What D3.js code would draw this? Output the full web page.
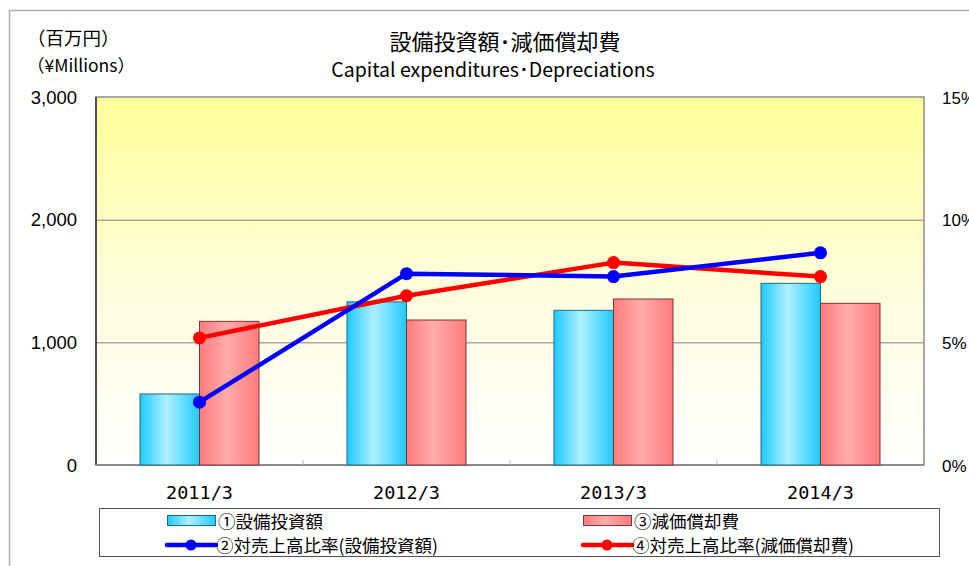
<!DOCTYPE html>
<html><head><meta charset="utf-8">
<script src="https://cdn.jsdelivr.net/npm/d3@7"></script>
<style>body{margin:0;background:#fff;}svg{display:block;}</style>
</head><body>
<svg id="c" width="969" height="566"></svg>
<script>
const categories = ["2011/3","2012/3","2013/3","2014/3"];
const capex = [579, 1330, 1261, 1481];
const depreciation = [1171, 1182, 1353, 1318];
const capexRatio = [2.56, 7.8, 7.68, 8.65];
const deprRatio = [5.18, 6.9, 8.25, 7.68];
const leftTicks = [0, 1000, 2000, 3000];
const rightTicks = [0, 5, 10, 15];
const title = "設備投資額･減価償却費";
const subtitle = "Capital expenditures･Depreciations";
const legendLabels = ["①設備投資額","③減価償却費","②対売上高比率(設備投資額)","④対売上高比率(減価償却費)"];

const svg = d3.select("#c");
const jp = "'Noto Sans CJK JP','Noto Sans',sans-serif";
const num = "'Liberation Sans',Arial,sans-serif";
const mono = "'DejaVu Sans Mono',monospace";
const M = {l:96, r:924, t:97, b:465};

const defs = svg.append("defs");
const bg = defs.append("linearGradient").attr("id","bg").attr("x1",0).attr("y1",0).attr("x2",0).attr("y2",1);
bg.append("stop").attr("offset","0%").attr("stop-color","#ffff99");
bg.append("stop").attr("offset","55%").attr("stop-color","#fffde0");
bg.append("stop").attr("offset","100%").attr("stop-color","#ffffff");
function hgrad(id, edge, mid){
  const g = defs.append("linearGradient").attr("id",id).attr("x1",0).attr("y1",0).attr("x2",1).attr("y2",0);
  g.append("stop").attr("offset","0%").attr("stop-color",edge);
  g.append("stop").attr("offset","45%").attr("stop-color",mid);
  g.append("stop").attr("offset","100%").attr("stop-color",edge);
}
hgrad("gb","#1fcaff","#aef0ff");
hgrad("gr","#ff7b7b","#ffabab");

// outer frame
svg.append("rect").attr("x",9.5).attr("y",10.5).attr("width",980).attr("height",600)
  .attr("fill","none").attr("stroke","#b0b0b0").attr("stroke-width",1.5);

const x = d3.scaleBand().domain(categories).range([M.l, M.r]);
const y = d3.scaleLinear().domain([0,3000]).range([M.b, M.t]);
const y2 = d3.scaleLinear().domain([0,15]).range([M.b, M.t]);

svg.append("rect").attr("x",M.l).attr("y",M.t).attr("width",M.r-M.l).attr("height",M.b-M.t)
  .attr("fill","url(#bg)");

// gridlines
svg.append("g").selectAll("line").data(leftTicks.filter(d=>d>0 && d<3000)).join("line")
  .attr("x1",M.l).attr("x2",M.r).attr("y1",d=>y(d)+0.5).attr("y2",d=>y(d)+0.5)
  .attr("stroke","#7f7f7f").attr("stroke-width",1);

// plot border
svg.append("rect").attr("x",M.l).attr("y",M.t).attr("width",M.r-M.l).attr("height",M.b-M.t)
  .attr("fill","none").attr("stroke","#8c8c8c").attr("stroke-width",1.5);
svg.append("line").attr("x1",M.l).attr("x2",M.l).attr("y1",M.t).attr("y2",M.b).attr("stroke","#333").attr("stroke-width",1.5);
svg.append("line").attr("x1",M.l).attr("x2",M.r).attr("y1",M.b).attr("y2",M.b).attr("stroke","#8c8c8c").attr("stroke-width",2);

// x ticks between categories
svg.append("g").selectAll("line").data(categories.slice(1)).join("line")
  .attr("x1",d=>x(d)).attr("x2",d=>x(d)).attr("y1",M.b-5).attr("y2",M.b)
  .attr("stroke","#bbb").attr("stroke-width",1);

const bw = 59.5;
// bars
svg.append("g").selectAll("rect").data(categories).join("rect")
  .attr("x",d=>x(d)+x.bandwidth()/2-bw).attr("width",bw)
  .attr("y",(d,i)=>y(capex[i])).attr("height",(d,i)=>M.b-y(capex[i]))
  .attr("fill","url(#gb)").attr("stroke","#1b6f80").attr("stroke-width",1);
svg.append("g").selectAll("rect").data(categories).join("rect")
  .attr("x",d=>x(d)+x.bandwidth()/2).attr("width",bw)
  .attr("y",(d,i)=>y(depreciation[i])).attr("height",(d,i)=>M.b-y(depreciation[i]))
  .attr("fill","url(#gr)").attr("stroke","#7a3535").attr("stroke-width",1);

// lines
function series(vals,color){
  const line = d3.line().x((d,i)=>x(categories[i])+x.bandwidth()/2).y(d=>y2(d));
  svg.append("path").datum(vals).attr("d",line).attr("fill","none").attr("stroke",color)
    .attr("stroke-width",4.5).attr("stroke-linejoin","round");
  svg.append("g").selectAll("circle").data(vals).join("circle")
    .attr("cx",(d,i)=>x(categories[i])+x.bandwidth()/2).attr("cy",d=>y2(d)).attr("r",6.5).attr("fill",color);
}
series(deprRatio,"#ff0000");
series(capexRatio,"#0000ff");

// axes labels
svg.append("g").selectAll("text").data(leftTicks).join("text")
  .attr("x",77).attr("y",d=>y(d)+6.5).attr("text-anchor","end")
  .attr("font-family",num).attr("font-size",18.5).attr("fill","#000")
  .text(d=>d3.format(",")(d));
svg.append("g").selectAll("text").data(rightTicks).join("text")
  .attr("x",942).attr("y",d=>y2(d)+6.5).attr("text-anchor","start")
  .attr("font-family",num).attr("font-size",17).attr("fill","#000")
  .text(d=>d+"%");
svg.append("g").selectAll("text").data(categories).join("text")
  .attr("x",d=>x(d)+x.bandwidth()/2).attr("y",499).attr("text-anchor","middle")
  .attr("font-family",mono).attr("font-size",18.5).attr("fill","#000")
  .text(d=>d);

// titles
svg.append("text").attr("x",505).attr("y",50).attr("text-anchor","middle")
  .attr("font-family",jp).attr("font-size",22).attr("fill","#000").text(title);
svg.append("text").attr("x",493).attr("y",77).attr("text-anchor","middle")
  .attr("font-family",jp).attr("font-size",19.5).attr("fill","#000").text(subtitle);
svg.append("text").attr("x",27).attr("y",45).attr("font-family",jp).attr("font-size",18.5).text("（百万円）");
svg.append("text").attr("x",27).attr("y",72).attr("font-family",jp).attr("font-size",17.5).text("（¥Millions）");

// legend
svg.append("rect").attr("x",99.5).attr("y",508.5).attr("width",840).attr("height",48)
  .attr("fill","#fff").attr("stroke","#555").attr("stroke-width",1);
const leg = [
  {x:167,y:521,type:"bar",fill:"url(#gb)",stroke:"#1b6f80",label:legendLabels[0]},
  {x:583,y:521,type:"bar",fill:"url(#gr)",stroke:"#7a3535",label:legendLabels[1]},
  {x:165,y:545,type:"line",color:"#0000ff",label:legendLabels[2]},
  {x:581,y:545,type:"line",color:"#ff0000",label:legendLabels[3]}
];
leg.forEach(d=>{
  if(d.type==="bar"){
    svg.append("rect").attr("x",d.x+0.5).attr("y",d.y-5.5).attr("width",48).attr("height",10)
      .attr("fill",d.fill).attr("stroke",d.stroke).attr("stroke-width",1);
  } else {
    svg.append("line").attr("x1",d.x+2).attr("x2",d.x+51).attr("y1",d.y).attr("y2",d.y)
      .attr("stroke",d.color).attr("stroke-width",4.5).attr("stroke-linecap","round");
    svg.append("circle").attr("cx",d.x+26).attr("cy",d.y).attr("r",5.5).attr("fill",d.color);
  }
  svg.append("text").attr("x",d.x+51).attr("y",d.y+6.5).attr("font-family",jp).attr("font-size",17.5)
    .attr("fill","#000").text(d.label);
});
</script>
</body></html>
